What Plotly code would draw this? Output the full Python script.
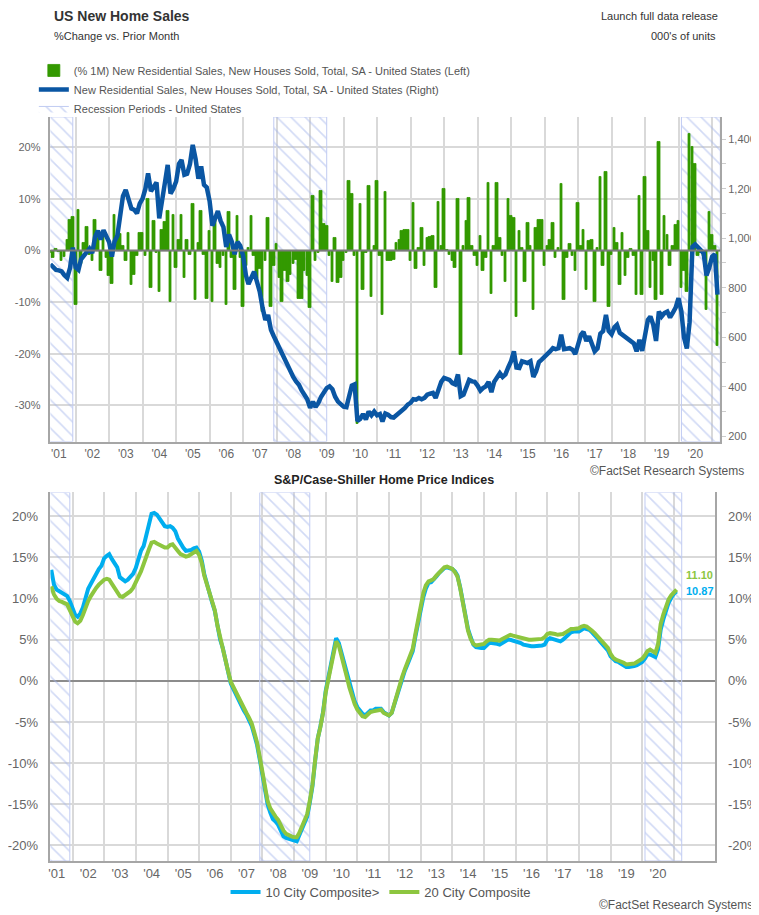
import pandas as pd
import plotly.graph_objects as go

# the page body has an 8px margin: the figure is sized to the visible window
OX, OY = 8, 8
W, H = 759 - OX, 915 - OY
FONT = "Liberation Sans, Arial, Helvetica, sans-serif"

# ---------------- data ----------------
# monthly, Mar 2001 .. Feb 2021 (month-end)
sales_dates = pd.date_range("2001-04-01", periods=240, freq="MS") - pd.Timedelta(days=1)

pct_change = [
    -0.5, -1.5, 0.3, -0.3, -2, -1.2, 2, 6, 6.5, -10.5, 7.8, -2.5,
    1.5, 4.5, -0.8, -2, 6, 2.5, -4, 3.5, -1.5, -5, -6.5, 7,
    2.5, 3.3, 1, -2, 3.4, -6.6, -4.7, -1, 3.4, 3.4, -1, 10,
    -7.3, 5.8, -0.5, -8, 4, 5.5, 7.7, -10, 7, -3.4, 2, 7,
    -5.3, 2, -0.8, 9, -9.6, 1.5, 7.7, -0.8, -9.3, 3.8, -10, 6,
    -2.5, -3.4, -1, -10.5, 7.4, -1.5, -7.6, 6.7, -1.5, -10.9, -3, 0.5,
    6.7, -1, -5.5, -3.5, -11.9, -2, 6.3, -11, -3, 1.2, -5.3, -9.9,
    -4, -6, -4.7, -2.5, -1.8, -9.3, -9.3, -4, -5, -11.2, 10.6, -2,
    -0.5, 11.6, 5.1, 4.8, -1, -6, 2.5, -6.3, -5.3, -2, -0.5, 13.5,
    11, -1, -33.5, 9, -7.6, -0.5, 12.6, -8.9, 1, 13.5, -1, -12.5,
    11.3, -2, -2, -1.8, 1.5, 2, 3.8, 4, 4, -2, 9.3, -3.5,
    0.5, 4.4, -3, 2.5, 2.6, 2.8, -7.3, 9.5, 1, 12, 0.2, -0.8,
    -2, -3.4, 10, -20.3, 1, 5.7, 10.3, 1, -1, -3, 2.8, -4,
    -1.5, 13.2, -8.3, 1, 13.2, 2.5, -1, -6, 10, 6.7, 6.4, -12.8,
    3.8, 0.5, -6, 5.4, 1, -11.5, 4.4, 6, 6, -3, 1, 2,
    5.4, -1.5, 0.5, 13, -9.6, -1.4, 1.3, -1, -4, 9.3, 1, 4,
    -7.6, 1.8, 2, -10, 0.5, 14.2, -3, 15.2, -10.9, -0.8, 4.4, 1.5,
    -6.6, 3.4, -5, -1.4, 0.3, -1, -8.6, 10.6, -8.6, 14.2, 3.8, -7.3,
    -2, -9.6, 21, -8.6, 6.7, 3, -3, 1, 5, 5.7, -7.3, -4,
    -8, 22.7, 20, 16.8, -1, -0.5, -1, -11.5, 7.4, 3, 1, -18.4,
]

new_home_sales = [
    895, 880, 872, 870, 866, 850, 840, 880, 962, 882, 872, 915,
    930, 950, 958, 940, 1005, 1030, 995, 1032, 1010, 985, 926, 987,
    1010, 1080, 1170, 1195, 1150, 1120, 1115, 1100, 1140, 1160, 1200, 1262,
    1190, 1205, 1225, 1080, 1170, 1225, 1296, 1180, 1200, 1229, 1300, 1316,
    1256, 1260, 1300, 1377, 1320, 1240, 1290, 1215, 1205, 1150, 1050, 1080,
    1110, 1070, 1045, 965, 1015, 985, 935, 985, 970, 930, 850, 815,
    840, 865, 825, 785, 720, 670, 690, 630, 605, 580, 560, 530,
    505, 480, 462, 440, 422, 408, 385, 370, 350, 315, 340, 318,
    335, 360, 382, 395, 402, 390, 360, 340, 330, 320, 318, 360,
    405, 410, 262, 270, 290, 268, 300, 285, 300, 285, 290, 260,
    292, 287, 278, 276, 285, 294, 305, 315, 328, 335, 350, 348,
    355, 350, 355, 368, 372, 375, 355, 385, 420, 436, 432, 428,
    415, 410, 450, 362, 368, 400, 428, 422, 420, 405, 385, 395,
    402, 420, 378, 420, 435, 455, 440, 450, 478, 503, 543, 478,
    476, 503, 500, 496, 503, 440, 462, 500, 510, 520, 530, 543,
    556, 552, 556, 610, 552, 556, 556, 550, 532, 570, 610, 622,
    585, 604, 570, 543, 555, 615, 625, 690, 625, 612, 640, 650,
    618, 610, 598, 590, 585, 575, 543, 590, 545, 620, 670, 684,
    650, 585, 704, 684, 698, 704, 680, 700, 720, 758, 705, 600,
    555, 660, 965, 975, 965, 955, 940, 850, 880, 925, 935, 772,
]

# monthly, Apr 2001 .. Jan 2021 (month-end)
cs_dates = pd.date_range("2001-05-01", periods=238, freq="MS") - pd.Timedelta(days=1)

city10 = [
    13.5, 11.7, 11.1, 10.9, 10.7, 10.5, 10.3, 9.7, 8.8, 8.0, 7.8, 8.2,
    8.9, 10.2, 11.2, 11.8, 12.5, 13.0, 13.6, 14.0, 14.9, 15.2, 15.4, 14.8,
    14.2, 13.8, 12.6, 12.3, 12.1, 12.3, 12.6, 13.0, 13.7, 14.7, 15.8, 16.4,
    17.9, 19.0, 20.3, 20.4, 20.2, 19.7, 19.2, 18.8, 18.7, 18.8, 18.6, 18.2,
    17.3, 16.6, 16.2, 15.8, 15.8, 15.9, 16.1, 16.2, 15.7, 14.6, 13.0, 11.7,
    10.6, 9.5, 8.5, 6.5, 5.0, 4.0, 2.5, 1.0, -0.3, -1.0, -1.6, -2.3,
    -3.1, -3.6, -4.1, -4.8, -5.5, -6.6, -7.8, -9.5, -11.5, -13.7, -15.0, -16.0,
    -16.8, -17.1, -17.5, -18.2, -18.9, -19.1, -19.2, -19.3, -19.4, -19.5, -18.8, -18.0,
    -17.2, -16.5, -14.8, -12.8, -9.7, -7.0, -5.5, -3.8, -1.2, 0.6, 1.8, 3.6,
    5.2, 4.6, 3.4, 2.0, 0.8, -0.5, -1.6, -2.5, -3.2, -3.6, -4.0, -4.2,
    -3.9, -3.6, -3.6, -3.4, -3.4, -3.4, -3.8, -4.0, -4.2, -3.9, -2.9, -1.7,
    -0.8, 0.3, 1.2, 2.0, 2.9, 3.6, 5.4, 7.0, 8.9, 10.2, 11.2, 11.9,
    12.0, 12.3, 12.7, 13.1, 13.5, 13.7, 13.8, 13.7, 13.6, 13.3, 12.8, 11.4,
    9.5, 7.8, 6.3, 5.3, 4.4, 4.1, 4.0, 4.0, 4.0, 4.3, 4.6, 4.6,
    4.6, 4.5, 4.4, 4.6, 4.8, 5.0, 5.0, 4.9, 4.9, 4.7, 4.6, 4.4,
    4.3, 4.2, 4.2, 4.2, 4.2, 4.2, 4.3, 4.4, 5.0, 5.2, 5.1, 5.0,
    4.8, 4.8, 5.0, 5.3, 5.6, 5.9, 6.0, 6.0, 6.0, 6.2, 6.4, 6.3,
    6.2, 5.9, 5.6, 5.2, 4.8, 4.4, 4.0, 3.7, 3.0, 2.6, 2.4, 2.3,
    2.1, 1.9, 1.7, 1.7, 1.7, 1.8, 1.9, 2.1, 2.3, 2.7, 3.2, 3.2,
    3.0, 2.9, 3.8, 6.2, 7.5, 8.6, 9.5, 10.1, 10.6, 10.87,
]

city20 = [
    11.5, 10.5, 10.0, 9.7, 9.6, 9.5, 9.3, 8.6, 7.8, 7.2, 7.0, 7.3,
    8.0, 8.9, 9.7, 10.3, 10.9, 11.3, 11.7, 12.0, 12.3, 12.4, 12.3, 11.8,
    11.3, 11.0, 10.3, 10.2, 10.4, 10.6, 10.9, 11.3, 11.9, 12.5, 13.3, 14.2,
    15.2, 16.0, 16.8, 16.9, 16.7, 16.5, 16.3, 16.2, 16.2, 16.5, 16.6, 16.1,
    15.8, 15.4, 15.2, 15.1, 15.2, 15.4, 15.6, 15.8, 15.3, 14.3, 12.8, 11.8,
    10.7, 9.6, 8.6, 6.7, 5.2, 4.1, 2.7, 1.2, -0.1, -0.8, -1.4, -2.0,
    -2.8, -3.4, -3.9, -4.5, -5.2, -6.3, -7.5, -9.2, -11.2, -13.3, -14.6, -15.5,
    -16.1, -16.5, -16.9, -17.6, -18.2, -18.6, -18.8, -18.9, -19.0, -19.0, -18.5, -17.8,
    -17.0, -16.2, -14.6, -12.6, -9.6, -7.0, -5.6, -3.9, -1.4, 0.3, 1.5, 3.3,
    4.8, 4.3, 3.2, 1.8, 0.5, -0.8, -1.9, -2.8, -3.5, -3.9, -4.3, -4.4,
    -4.1, -3.8, -3.7, -3.6, -3.5, -3.5, -3.9, -4.1, -4.2, -3.9, -2.8, -1.5,
    -0.5, 0.5, 1.4, 2.2, 3.1, 3.9, 5.7, 7.4, 9.3, 10.7, 11.6, 12.1,
    12.2, 12.4, 12.8, 13.2, 13.6, 13.8, 13.9, 13.7, 13.6, 13.2, 12.7, 11.3,
    9.4, 7.6, 6.1, 5.1, 4.5, 4.3, 4.4, 4.4, 4.5, 4.8, 5.0, 5.0,
    5.0, 4.9, 4.9, 5.1, 5.3, 5.5, 5.6, 5.5, 5.4, 5.3, 5.2, 5.1,
    5.0, 5.0, 5.0, 5.0, 5.0, 5.0, 5.1, 5.3, 5.7, 5.8, 5.8, 5.7,
    5.6, 5.6, 5.7, 5.9, 6.1, 6.3, 6.3, 6.3, 6.4, 6.6, 6.7, 6.6,
    6.4, 6.1, 5.8, 5.4, 5.0, 4.6, 4.3, 4.0, 3.3, 2.8, 2.6, 2.5,
    2.4, 2.2, 2.0, 2.0, 2.0, 2.1, 2.3, 2.5, 2.7, 3.1, 3.6, 3.8,
    3.6, 3.4, 4.4, 6.9, 8.1, 9.1, 9.9, 10.4, 10.8, 11.10,
]

rec_start = ["2001-03-01", "2007-12-01", "2020-02-01"]
rec_end = ["2001-11-30", "2009-06-30", "2021-03-31"]

years = list(range(2001, 2021))
year_labels = ["'%02d" % (y % 100) for y in years]
label_pos = ["%d-07-01" % y for y in years]
year_bounds = ["%d-01-01" % y for y in range(2002, 2022)]

pct_ticks = [-30, -20, -10, 0, 10, 20]
pct_text = ["%d%%" % v for v in pct_ticks]
unit_ticks = [200, 400, 600, 800, 1000, 1200, 1400]
cs_ticks = [-20, -15, -10, -5, 0, 5, 10, 15, 20]
cs_text = ["%d%%" % v for v in cs_ticks]

# ---------------- colors ----------------
GREEN_BAR = "#339900"
BLUE = "#0a56a3"
CYAN = "#00aeef"
LIME = "#8dc63f"
GRID = "#d9d9d9"
AXIS = "#a6a6a6"
TICK = "#666666"
REC_LINE = "#c0cbf2"
REC_HATCH = "#a3b5ec"


def px_x(v):
    """screen pixel (window coords) -> paper fraction"""
    return (v - OX) / W


def px_y(v):
    return 1 - (v - OY) / H


def rec_poly(starts, ends):
    xs, ys = [], []
    for s, e in zip(starts, ends):
        xs += [s, s, e, e, s, None]
        ys += [0, 1, 1, 0, 0, None]
    return xs, ys


rx, ry = rec_poly(rec_start, rec_end)
hatch = dict(shape="\\", fgcolor=REC_HATCH, bgcolor="rgba(0,0,0,0)", size=10, solidity=0.16)

fig = go.Figure()

# top chart
fig.add_trace(go.Scatter(
    x=rx, y=ry, xaxis="x", yaxis="y", mode="lines", fill="toself",
    line=dict(color=REC_LINE, width=1), fillcolor="rgba(0,0,0,0)", fillpattern=hatch,
    name="Recession Periods - United States", legend="legend", legendrank=3,
    hoverinfo="skip"))
fig.add_trace(go.Bar(
    x=sales_dates, y=pct_change, xaxis="x", yaxis="y2",
    marker=dict(color=GREEN_BAR, line=dict(width=0.8, color=GREEN_BAR)),
    name="(% 1M) New Residential Sales, New Houses Sold, Total, SA - United States (Left)",
    legend="legend", legendrank=1))
fig.add_trace(go.Scatter(
    x=sales_dates, y=new_home_sales, xaxis="x", yaxis="y3", mode="lines",
    line=dict(color=BLUE, width=4.5),
    name="New Residential Sales, New Houses Sold, Total, SA - United States (Right)",
    legend="legend", legendrank=2))

# bottom chart
fig.add_trace(go.Scatter(
    x=rx, y=ry, xaxis="x2", yaxis="y4", mode="lines", fill="toself",
    line=dict(color=REC_LINE, width=1), fillcolor="rgba(0,0,0,0)", fillpattern=hatch,
    showlegend=False, hoverinfo="skip"))
fig.add_trace(go.Scatter(
    x=cs_dates, y=city10, xaxis="x2", yaxis="y5", mode="lines",
    line=dict(color=CYAN, width=4), name="10 City Composite>", legend="legend2"))
fig.add_trace(go.Scatter(
    x=cs_dates, y=city20, xaxis="x2", yaxis="y6", mode="lines",
    line=dict(color=LIME, width=4), name="20 City Composite", legend="legend2"))

top_dom_y = [px_y(442), px_y(117)]
bot_dom_y = [px_y(862), px_y(493)]

xcommon = dict(
    type="date", showgrid=False, tickmode="array", tickvals=label_pos, ticktext=year_labels,
    ticks="", showline=True, linecolor=AXIS, linewidth=1.5, zeroline=False,
    minor=dict(tickvals=year_bounds, showgrid=True, gridcolor=GRID, gridwidth=1.5, ticks=""),
)

fig.update_layout(
    width=W, height=H, autosize=False,
    margin=dict(l=0, r=0, t=0, b=0),
    paper_bgcolor="white", plot_bgcolor="white",
    font=dict(family=FONT, color=TICK),
    bargap=0,
    showlegend=True,
    xaxis=dict(xcommon, domain=[px_x(44.7), px_x(720)], anchor="y",
               range=["2001-03-31", "2021-03-31"], tickfont=dict(size=12, color=TICK)),
    yaxis=dict(domain=top_dom_y, range=[0, 1], visible=False, fixedrange=True),
    yaxis2=dict(overlaying="y", side="left", anchor="x", range=[-37, 25.9],
                tickmode="array", tickvals=pct_ticks, ticktext=pct_text,
                showgrid=True, gridcolor=GRID, gridwidth=1.5, zeroline=False,
                showline=True, linecolor=AXIS, linewidth=1.5,
                ticks="", ticklabelstandoff=6, tickfont=dict(size=11, color=TICK)),
    yaxis3=dict(overlaying="y", side="right", anchor="x", range=[179, 1490],
                tickmode="array", tickvals=unit_ticks, tickformat=",",
                showgrid=False, zeroline=False,
                showline=True, linecolor=AXIS, linewidth=1.5,
                ticks="outside", ticklen=4, tickcolor="#cccccc",
                minor=dict(dtick=100, ticks="outside", ticklen=4, tickcolor="#cccccc"),
                tickfont=dict(size=11, color=TICK)),
    xaxis2=dict(xcommon, domain=[px_x(44.7), px_x(714.3)], anchor="y4",
                range=["2001-04-20", "2022-04-15"], tickfont=dict(size=13, color=TICK)),
    yaxis4=dict(domain=bot_dom_y, range=[0, 1], visible=False, fixedrange=True, anchor="x2"),
    yaxis5=dict(overlaying="y4", side="left", anchor="x2", range=[-21.9, 22.9],
                tickmode="array", tickvals=cs_ticks, ticktext=cs_text,
                showgrid=True, gridcolor=GRID, gridwidth=1.5,
                zeroline=True, zerolinecolor="#8c8c8c", zerolinewidth=1.5,
                showline=True, linecolor=AXIS, linewidth=1.5,
                ticks="", ticklabelstandoff=8, tickfont=dict(size=13, color=TICK)),
    yaxis6=dict(overlaying="y4", side="right", anchor="x2", range=[-21.9, 22.9],
                tickmode="array", tickvals=cs_ticks, ticktext=cs_text,
                showgrid=False, zeroline=False,
                showline=True, linecolor=AXIS, linewidth=1.5,
                ticks="", ticklabelstandoff=9, tickfont=dict(size=13, color=TICK)),
    legend=dict(x=px_x(28), y=px_y(56), xanchor="left", yanchor="top",
                orientation="v", bgcolor="rgba(0,0,0,0)", tracegroupgap=0,
                font=dict(size=11, color="#555555"), itemclick=False),
    legend2=dict(x=px_x(378), y=px_y(893), xanchor="center", yanchor="middle",
                 orientation="h", bgcolor="rgba(0,0,0,0)",
                 font=dict(size=13, color="#555555"), itemclick=False),
    shapes=[dict(type="line", xref="x domain", x0=0, x1=1, yref="y2", y0=0, y1=0,
                 line=dict(color="#7a7a7a", width=2), layer="above")],
)

ann = []


def txt(text, x, y, anchor, size, color, bold=False):
    ann.append(dict(text=("<b>%s</b>" % text) if bold else text, x=px_x(x), y=px_y(y),
                    xref="paper", yref="paper", xanchor=anchor, yanchor="middle",
                    showarrow=False, font=dict(size=size, color=color, family=FONT)))


txt("US New Home Sales", 46, 16, "left", 14, "#333333", bold=True)
txt("%Change vs. Prior Month", 46, 36, "left", 11, "#333333")
txt("Launch full data release", 720, 16, "right", 11, "#333333")
txt("000's of units", 718, 36, "right", 11, "#333333")
txt("©FactSet Research Systems", 746, 472, "right", 12, "#555555")
txt("S&P/Case-Shiller Home Price Indices", 381, 481, "center", 12.5, "#222222", bold=True)
txt("©FactSet Research Systems", 755, 906, "right", 12, "#555555")

ann.append(dict(text="<b>%.2f</b>" % city20[-1], x=cs_dates[-1], y=city20[-1],
                xref="x2", yref="y5", xanchor="left", yanchor="middle", xshift=7, yshift=15,
                showarrow=False, font=dict(size=11, color=LIME, family=FONT)))
ann.append(dict(text="<b>%.2f</b>" % city10[-1], x=cs_dates[-1], y=city10[-1],
                xref="x2", yref="y5", xanchor="left", yanchor="middle", xshift=7, yshift=0,
                showarrow=False, font=dict(size=11, color=CYAN, family=FONT)))

fig.update_layout(annotations=ann)

fig.write_html("out.html")
